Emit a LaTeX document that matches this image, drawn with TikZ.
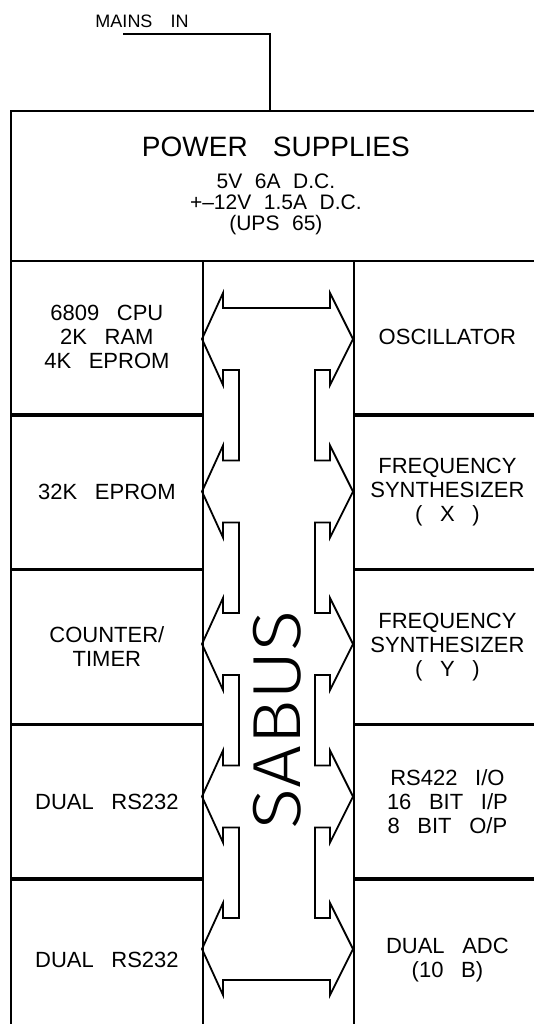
\documentclass[tikz,border=0pt]{standalone}
\usepackage{fontspec}
\usepackage{graphicx}
\setmainfont{Liberation Sans}
\newfontfamily\busfont{Fira Sans Light}
\usetikzlibrary{positioning}

\newcommand{\boxfont}{\fontsize{22}{24}\selectfont\spaceskip=0.8em\relax}
\newcommand{\psufont}{\fontsize{21}{21}\selectfont\spaceskip=0.6em\relax}
\newcommand{\mainsfont}{\fontsize{18}{20}\selectfont\spaceskip=1em\relax}

\tikzset{
  unitbox/.style={draw, rectangle, line width=1.8pt, align=center, inner sep=0pt,
    minimum width=192pt, minimum height=153pt, font=\boxfont},
  rightbox/.style={unitbox, minimum width=187pt},
  wire/.style={line width=1.6pt},
  busline/.style={line width=1.8pt, line join=miter}
}

\begin{document}
\begin{tikzpicture}[x=1pt, y=-1pt]
  \useasboundingbox (0,0) rectangle (533,1024);

  % power supply and mains feed
  \node (psu) [unitbox, minimum width=530pt, minimum height=150pt, anchor=north west, font=\psufont] at (10,110)
    {{\fontsize{28}{30}\selectfont\spaceskip=0.9em POWER SUPPLIES}\\[11pt] 5V 6A D.C.\\ +--12V 1.5A D.C.\\ (UPS 65)};
  \node (mains) [font=\mainsfont] at (142,21) {MAINS IN};
  \coordinate (feed) at (123,34);
  \draw[wire] (feed) -| (270,0 |- psu.north);

  % left column
  \node (cpu) [unitbox, anchor=north west] at (10,260) {6809 CPU\\2K RAM\\4K EPROM};
  \node (eprom) [unitbox, below=0pt of cpu] {32K EPROM};
  \node (timer) [unitbox, below=0pt of eprom] {COUNTER/\\TIMER};
  \node (rsa) [unitbox, below=0pt of timer] {DUAL RS232};
  \node (rsb) [unitbox, below=0pt of rsa, minimum height=160pt] {DUAL RS232};

  % right column
  \node (osc) [rightbox, anchor=north west] at (353,260) {OSCILLATOR};
  \node (synx) [rightbox, below=0pt of osc] {FREQUENCY\\SYNTHESIZER\\( X )};
  \node (syny) [rightbox, below=0pt of synx] {FREQUENCY\\SYNTHESIZER\\( Y )};
  \node (rsio) [rightbox, below=0pt of syny] {RS422 I/O\\16 BIT I/P\\8 BIT O/P};
  \node (adc) [rightbox, below=0pt of rsio, minimum height=160pt] {DUAL ADC\\(10 B)};

  % the bus
  \draw[busline] (239,308)
    \foreach \y in {339,491.5,644,796.5,949} {
      -- (315,\y-31) -- (330,\y-31) -- (330,\y-46) -- (353,\y)
      -- (330,\y+46) -- (330,\y+31) -- (315,\y+31) }
    \foreach \y in {949,796.5,644,491.5,339} {
      -- (239,\y+31) -- (223,\y+31) -- (223,\y+46) -- (202,\y)
      -- (223,\y-46) -- (223,\y-31) -- (239,\y-31) }
    -- cycle;
  \node (sabus) [rotate=90, font=\busfont\fontsize{68}{68}\selectfont] at (277,720) {\scalebox{1.12}[1]{SABUS}};
\end{tikzpicture}
\end{document}
